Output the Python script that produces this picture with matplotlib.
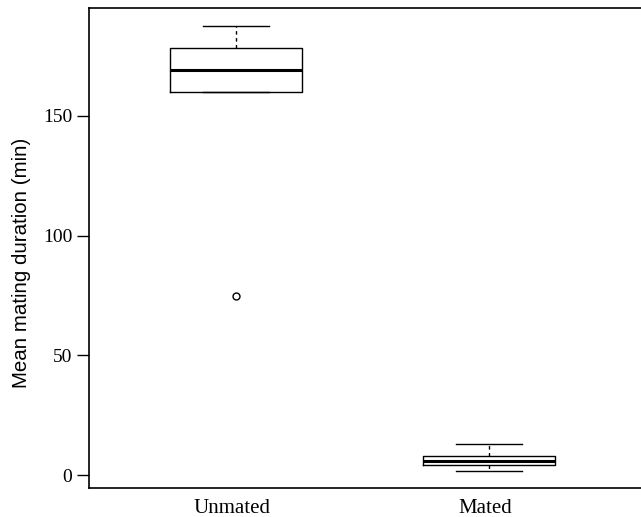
import matplotlib
matplotlib.use("Agg")
import matplotlib.pyplot as plt
import matplotlib.transforms as mtransforms

categories = ["Unmated", "Mated"]
whisker_low = [160.2, 1.8]
q1 = [160.2, 4.0]
median = [169.2, 5.9]
q3 = [178.3, 7.9]
whisker_high = [187.6, 12.8]
outliers = [[74.9], []]
yticks = [0, 50, 100, 150]

stats = []
for i, c in enumerate(categories):
    stats.append(dict(label=c, whislo=whisker_low[i], q1=q1[i], med=median[i],
                      q3=q3[i], whishi=whisker_high[i], fliers=outliers[i]))

fig = plt.figure(figsize=(6.41, 5.17), dpi=100)
ax = fig.add_axes([89/641, 1-488/517, (641-89)/641, (488-8)/517])

ax.bxp(stats, positions=[1, 2], widths=0.518, showfliers=True,
       boxprops=dict(color="black", linewidth=1.0),
       medianprops=dict(color="black", linewidth=2.2),
       whiskerprops=dict(color="black", linewidth=1.0, linestyle=(0, (2.5, 2.5))),
       capprops=dict(color="black", linewidth=1.0),
       capwidths=0.26,
       flierprops=dict(marker="o", markersize=5, markerfacecolor="none",
                       markeredgecolor="black", markeredgewidth=1.0))

ax.set_xlim(1 - 147/253, 2 + 152/253)
ax.set_ylim(-5.4, 195.1)
ax.set_yticks(yticks)
ax.set_yticklabels([str(t) for t in yticks], family="Liberation Serif", fontsize=14)
ax.set_xticks([1, 2])
ax.set_xticklabels(categories, family="Liberation Serif", fontsize=15)
ax.tick_params(axis="x", length=0, pad=8)
ax.tick_params(axis="y", length=9, width=1.0, pad=3)
shift = mtransforms.ScaledTranslation(-4/100, 0, fig.dpi_scale_trans)
for lab in ax.get_xticklabels():
    lab.set_transform(lab.get_transform() + shift)
ax.set_ylabel("Mean mating duration (min)", family="Liberation Sans", fontsize=14.8)
ax.yaxis.set_label_coords(-0.105, (488-263)/480)
for s in ["left", "bottom", "top"]:
    ax.spines[s].set_linewidth(1.2)
ax.spines["right"].set_visible(False)

fig.savefig("out.png", dpi=100)
